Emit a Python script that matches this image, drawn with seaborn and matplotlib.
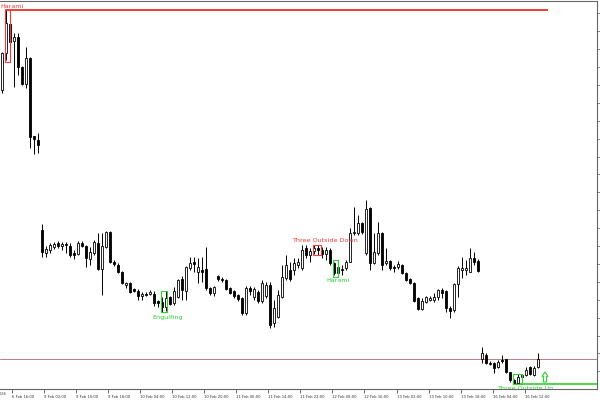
import numpy as np
import pandas as pd
import matplotlib
matplotlib.use("Agg")
import matplotlib.pyplot as plt
import matplotlib.transforms as mtransforms
from matplotlib.patches import Rectangle, FancyArrow
import seaborn as sns

# H1 bars, price (arbitrary units, right scale has no labels)
opens = [310, 347, 376, 359, 363, 333, 316, 342, 264, 260,
         170, 147, 150, 153, 157, 154, 156, 154, 147, 146,
         157, 154, 141, 147, 157, 131, 153, 168, 138, 135,
         128, 115, 117, 111, 109, 104, 106, 106, 106, 99,
         98, 93, 103, 97, 103, 121, 109, 132, 138, 128,
         130, 131, 112, 107, 124, 121, 120, 112, 109, 105,
         102, 87, 112, 103, 108, 99, 104, 115, 77, 83,
         103, 122, 130, 130, 135, 132, 152, 145, 149, 152,
         150, 146, 150, 137, 127, 131, 132, 138, 167, 167,
         177, 147, 192, 137, 147, 167, 137, 139, 133, 133,
         135, 127, 121, 117, 102, 91, 98, 100, 100, 103,
         110, 109, 92, 90, 116, 130, 130, 128, 142, 139,
         41, 45, 37, 37, 33, 40, 41, 28, 20, 17,
         23, 25, 33, 25, 33]
highs = [348, 390, 388, 367, 367, 334, 353, 343, 264, 267,
         176, 154, 157, 158, 159, 158, 158, 157, 150, 159,
         159, 155, 153, 160, 167, 167, 169, 169, 140, 137,
         129, 118, 118, 112, 111, 108, 108, 110, 109, 100,
         103, 109, 104, 113, 121, 124, 134, 143, 143, 142,
         143, 153, 113, 114, 125, 123, 121, 113, 110, 106,
         103, 114, 114, 113, 110, 120, 118, 118, 100, 110,
         135, 145, 138, 142, 142, 155, 155, 152, 155, 155,
         153, 153, 152, 138, 140, 135, 140, 172, 193, 185,
         178, 200, 193, 167, 178, 168, 152, 140, 135, 139,
         136, 128, 122, 118, 103, 102, 104, 104, 107, 111,
         112, 110, 94, 117, 134, 143, 140, 152, 148, 141,
         53, 47, 39, 38, 40, 45, 41, 28, 21, 26,
         26, 33, 34, 34, 47]
lows = [307, 340, 338, 313, 325, 315, 312, 252, 246, 247,
        143, 143, 147, 151, 152, 150, 147, 143, 141, 145,
        153, 133, 135, 145, 130, 105, 152, 137, 134, 127,
        116, 112, 107, 108, 100, 100, 104, 105, 94, 93,
        88, 89, 95, 95, 102, 100, 100, 130, 128, 117,
        118, 110, 105, 104, 119, 118, 110, 106, 102, 99,
        85, 85, 105, 100, 97, 97, 102, 72, 73, 82,
        102, 120, 119, 125, 132, 130, 142, 138, 146, 145,
        142, 140, 135, 125, 123, 125, 130, 138, 165, 165,
        166, 145, 130, 136, 145, 130, 135, 130, 128, 131,
        126, 119, 116, 98, 90, 90, 97, 99, 98, 100,
        102, 88, 82, 88, 103, 122, 125, 128, 135, 128,
        37, 36, 35, 27, 32, 37, 27, 18, 16, 16,
        22, 24, 25, 24, 32]
closes = [347, 377, 358, 363, 333, 316, 342, 263, 261, 255,
          148, 151, 155, 156, 154, 156, 155.5, 145, 145, 157,
          154, 142, 148, 158, 131, 154, 168, 138, 136, 128,
          117, 117, 108, 109, 104, 106, 105.5, 108, 97, 97,
          93, 102, 96, 109, 120, 110, 133, 137, 136, 133,
          128, 112, 107, 113, 121, 120.5, 111, 107, 104, 101,
          87, 112, 109, 111, 99, 117, 115, 75, 92, 105,
          123, 135, 121, 137, 138, 150, 145, 149, 152, 150,
          146, 150, 137, 127, 133, 130.5, 138, 167, 168, 177,
          168, 191, 137, 148, 167, 135, 139, 132, 132.5, 136,
          127, 120, 117, 99, 91, 99, 103, 102, 103, 110,
          107, 92, 89, 116, 132, 132, 132, 142, 138, 129,
          47, 37, 36.5, 32, 38, 39, 28, 20, 17, 23,
          25, 30, 26, 32, 41]

time_labels = ["6 Feb 16:00", "9 Feb 02:00", "9 Feb 10:00", "9 Feb 18:00",
               "10 Feb 04:00", "10 Feb 12:00", "10 Feb 20:00", "11 Feb 06:00",
               "11 Feb 14:00", "11 Feb 22:00", "12 Feb 08:00", "12 Feb 16:00",
               "13 Feb 02:00", "13 Feb 10:00", "13 Feb 18:00", "16 Feb 04:00",
               "16 Feb 12:00"]
first_label = "5 Feb 2026"

df = pd.DataFrame({"open": opens, "high": highs, "low": lows, "close": closes})
df["bar"] = np.arange(len(df))
df["up"] = df["close"] >= df["open"]

sns.set_theme(style="white")
plt.rcParams["font.family"] = ["DejaVu Sans"]

fig = plt.figure(figsize=(6, 4), dpi=100)
ax = fig.add_axes([0, 0.0275, 0.995, 0.97])

# wicks
ax.vlines(df["bar"], df["low"], df["high"], color="black", lw=0.7, zorder=2)
# bodies
body = (df["close"] - df["open"]).abs().clip(lower=0.6)
bottom = df[["open", "close"]].min(axis=1)
ax.bar(df["bar"], body, bottom=bottom, width=0.62,
       color=np.where(df["up"], "white", "black"),
       edgecolor="black", linewidth=0.6, zorder=3)

red = "#f03c3c"
green = "#30d030"

# support / resistance lines
ax.hlines(390.5, 0.75, 136.5, color=red, lw=1.4, zorder=1)
ax.axhline(41.3, color="#b88080", lw=0.7, zorder=1)
ax.hlines(16, 127.7, 149, color=green, lw=1.2, zorder=1)

# pattern boxes
boxes = [(0.75, 338, 1.25, 52, red),
         (77.75, 145, 2.0, 10, red),
         (39.65, 88, 1.55, 21, green),
         (82.75, 123, 1.3, 17, green),
         (127.7, 16, 2.3, 10, green)]
for x0, y0, w, h, col in boxes:
    ax.add_patch(Rectangle((x0, y0), w, h, fill=False, edgecolor=col,
                           lw=0.8, zorder=4))

ax.text(-0.4, 394, "Harami", color=red, fontsize=4.6, ha="left", va="center")
ax.text(80.75, 160, "Three Outside Down", color=red, fontsize=4.6,
        ha="center", va="center")
ax.text(41.4, 83, "Engulfing", color=green, fontsize=4.6, ha="center", va="center")
ax.text(83.9, 119, "Harami", color=green, fontsize=4.6, ha="center", va="center")
ax.text(130.75, 14.3, "Three Outside Up", color=green, fontsize=4.6,
        ha="center", va="top", clip_on=True)
ax.add_patch(FancyArrow(135.75, 18, 0, 10, width=0.75, head_width=1.5,
                        head_length=4.5, length_includes_head=True,
                        facecolor="white", edgecolor=green, lw=0.8, zorder=4))

ax.set_xlim(-0.5, 148.75)
ax.set_ylim(11, 399)

ticks = 2.4 + 8.02 * np.arange(len(time_labels))
ax.set_xticks(ticks)
ax.set_xticklabels(time_labels, fontsize=2.7, ha="left")
ax.tick_params(axis="x", direction="out", length=3, width=0.5, pad=1.2,
               colors="#333333", bottom=True)
trans = mtransforms.blended_transform_factory(ax.transData, ax.transAxes)
ax.text(1.0, -0.008, first_label, transform=trans, fontsize=2.7, ha="right",
        va="top", color="#333333", clip_on=False)

ax.yaxis.tick_right()
ax.set_yticks(386.7 - 17.9 * np.arange(21))
ax.set_yticklabels([])
ax.tick_params(axis="y", direction="out", length=2, width=0.5, right=True,
               colors="#555555")

for side in ["top", "right", "bottom"]:
    ax.spines[side].set_color("#666666")
    ax.spines[side].set_linewidth(0.8)
ax.spines["left"].set_visible(False)
ax.set_xlabel("")
ax.set_ylabel("")

fig.savefig("out.png", dpi=100)
